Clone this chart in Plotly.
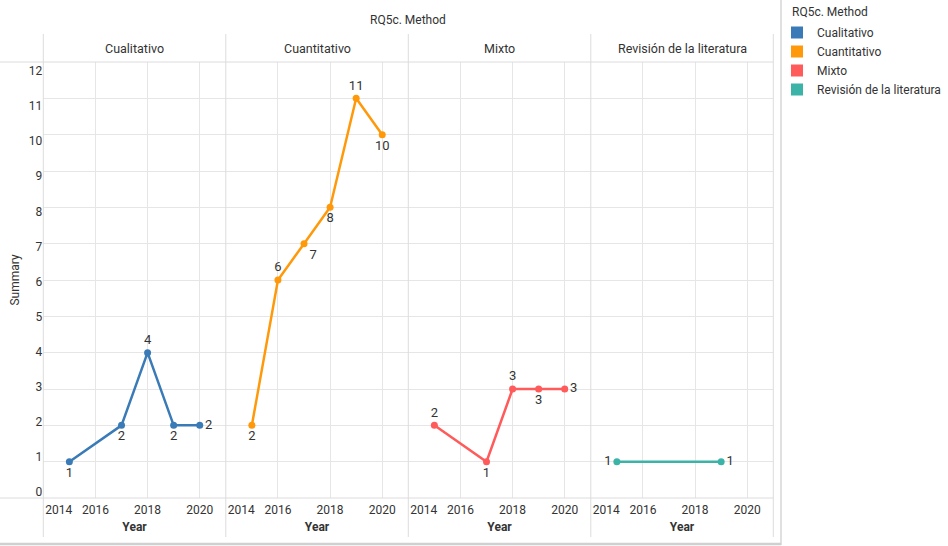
import plotly.graph_objects as go

# ---------------- data ----------------
methods = ["Cualitativo", "Cuantitativo", "Mixto", "Revisión de la literatura"]
years_cualitativo = [2015, 2017, 2018, 2019, 2020]
summary_cualitativo = [1, 2, 4, 2, 2]
years_cuantitativo = [2015, 2016, 2017, 2018, 2019, 2020]
summary_cuantitativo = [2, 6, 7, 8, 11, 10]
years_mixto = [2015, 2017, 2018, 2019, 2020]
summary_mixto = [2, 1, 3, 3, 3]
years_revision = [2015, 2019]
summary_revision = [1, 1]
x_tick_values = [2016, 2018, 2020]
x_first_tick = [2014]
y_tick_values = list(range(0, 13))

# ---------------- style ----------------
W, H = 948, 546
colors = ["#3a7bb7", "#ff990a", "#ff5b5b", "#3bb3a7"]
label_pos = [
    ["bottom center", "bottom center", "top center", "bottom center", "middle right"],
    ["bottom center", "top center", "bottom right", "bottom center", "top center", "bottom center"],
    ["top center", "bottom center", "top center", "bottom center", "middle right"],
    ["middle left", "middle right"],
]
FONT = "Roboto"
TXT = "#333333"
GRID = "#e6e6e6"
FRAME = "#dcdcdc"

edges = [43.3, 225.8, 408.3, 590.8, 773.3]
top_px, bot_px = 62, 498

def px(x):
    return x / W

def py(y):
    return 1 - y / H

series = [
    (years_cualitativo, summary_cualitativo),
    (years_cuantitativo, summary_cuantitativo),
    (years_mixto, summary_mixto),
    (years_revision, summary_revision),
]

fig = go.Figure()

for i, (xs, ys) in enumerate(series):
    n = i + 1
    fig.add_trace(go.Scatter(
        x=xs, y=ys, mode="lines+markers+text",
        text=[str(v) for v in ys], textposition=label_pos[i],
        textfont=dict(family=FONT, size=13, color=TXT),
        line=dict(color=colors[i], width=2.5),
        marker=dict(color=colors[i], size=7),
        xaxis=f"x{n}" if n > 1 else "x", yaxis=f"y{n}" if n > 1 else "y",
        showlegend=False, cliponaxis=False, name=methods[i],
    ))

# legend entries (square swatches)
for i, m in enumerate(methods):
    fig.add_trace(go.Scatter(
        x=[None], y=[None], mode="markers", name=m,
        marker=dict(symbol="square", size=12, color=colors[i]),
        showlegend=True, xaxis="x", yaxis="y",
    ))

# label-only overlay axes
fig.add_trace(go.Scatter(x=[None], y=[None], xaxis="x", yaxis="y5",
                         showlegend=False, hoverinfo="skip"))
for i in range(4):
    fig.add_trace(go.Scatter(x=[None], y=[None], xaxis=f"x{i + 5}", yaxis="y" if i == 0 else f"y{i + 1}",
                             showlegend=False, hoverinfo="skip"))

layout = dict(
    width=W, height=H,
    margin=dict(l=0, r=0, t=0, b=0, autoexpand=False),
    paper_bgcolor="white", plot_bgcolor="white",
    font=dict(family=FONT, size=12, color=TXT),
    showlegend=True,
    legend=dict(
        x=px(777), y=py(18), xanchor="left", yanchor="top",
        font=dict(size=12, color=TXT), tracegroupgap=0, itemwidth=30,
        bgcolor="rgba(0,0,0,0)",
    ),
)

ydom = [py(bot_px), py(top_px)]
for i in range(4):
    n = i + 1
    xa = "xaxis" if n == 1 else f"xaxis{n}"
    ya = "yaxis" if n == 1 else f"yaxis{n}"
    yref = "y" if n == 1 else f"y{n}"
    layout[xa] = dict(
        domain=[px(edges[i]), px(edges[i + 1])], range=[2014, 2021],
        anchor=yref, automargin=False,
        tickvals=x_tick_values, ticklabelstandoff=3,
        showgrid=True, gridcolor=GRID, gridwidth=1,
        zeroline=False, showline=False, ticks="",
        tickfont=dict(size=12, color=TXT),
        title=dict(text="<b>Year</b>", font=dict(size=12, color=TXT), standoff=6),
        fixedrange=True,
    )
    layout[f"xaxis{n + 4}"] = dict(
        overlaying="x" if n == 1 else f"x{n}", anchor=yref, automargin=False,
        range=[2014, 2021], tickvals=x_first_tick,
        ticklabelposition="outside right", ticklabelshift=2, ticklabelstandoff=3,
        showgrid=False, zeroline=False, showline=False, ticks="",
        tickfont=dict(size=12, color=TXT), fixedrange=True,
    )
    layout[ya] = dict(
        domain=ydom, range=[0, 12], anchor="x" if n == 1 else f"x{n}",
        tickvals=y_tick_values, showticklabels=False, automargin=False,
        showgrid=True, gridcolor=GRID, gridwidth=1,
        zeroline=False, showline=False, ticks="",
        fixedrange=True,
    )
    if n > 1:
        layout[ya]["matches"] = "y"

# labels for the y axis (Vega-like spread)
layout["yaxis5"] = dict(
    overlaying="y", anchor="x", side="left", automargin=False,
    range=[-0.171, 12.257], tickvals=y_tick_values,
    showgrid=False, zeroline=False, showline=False, ticks="",
    tickfont=dict(size=12, color=TXT),
    title=dict(text="Summary", font=dict(size=12, color=TXT), standoff=6),
    fixedrange=True,
)

shapes = []
line = dict(color=FRAME, width=1)
shapes.append(dict(type="line", xref="paper", yref="paper", x0=0, x1=px(edges[-1]),
                   y0=py(top_px), y1=py(top_px), line=line))
shapes.append(dict(type="line", xref="paper", yref="paper", x0=0, x1=px(edges[-1]),
                   y0=py(bot_px), y1=py(bot_px), line=line))
for e in edges:
    shapes.append(dict(type="line", xref="paper", yref="paper", x0=px(e), x1=px(e),
                       y0=py(34), y1=py(537), line=line))
shapes.append(dict(type="line", xref="paper", yref="paper", x0=px(781), x1=px(781),
                   y0=py(0), y1=py(545), line=dict(color="#d6d6d6", width=1.5)))
shapes.append(dict(type="line", xref="paper", yref="paper", x0=0, x1=px(781),
                   y0=py(544), y1=py(544), line=dict(color="#d0d0d0", width=2.5)))
layout["shapes"] = shapes

annotations = [dict(
    text="RQ5c. Method", xref="paper", yref="paper",
    x=px((edges[0] + edges[-1]) / 2), y=py(20),
    xanchor="center", yanchor="middle", showarrow=False,
    font=dict(size=12, color=TXT),
), dict(
    text="RQ5c. Method", xref="paper", yref="paper",
    x=px(790), y=py(12),
    xanchor="left", yanchor="middle", showarrow=False,
    font=dict(size=12, color=TXT),
)]
for i, m in enumerate(methods):
    annotations.append(dict(
        text=m, xref="paper", yref="paper",
        x=px((edges[i] + edges[i + 1]) / 2), y=py(48),
        xanchor="center", yanchor="middle", showarrow=False,
        font=dict(size=12.5, color=TXT),
    ))
layout["annotations"] = annotations

fig.update_layout(**layout)
fig.write_html("out.html", config={"displayModeBar": False},
               post_script="document.body.style.margin='0';")
